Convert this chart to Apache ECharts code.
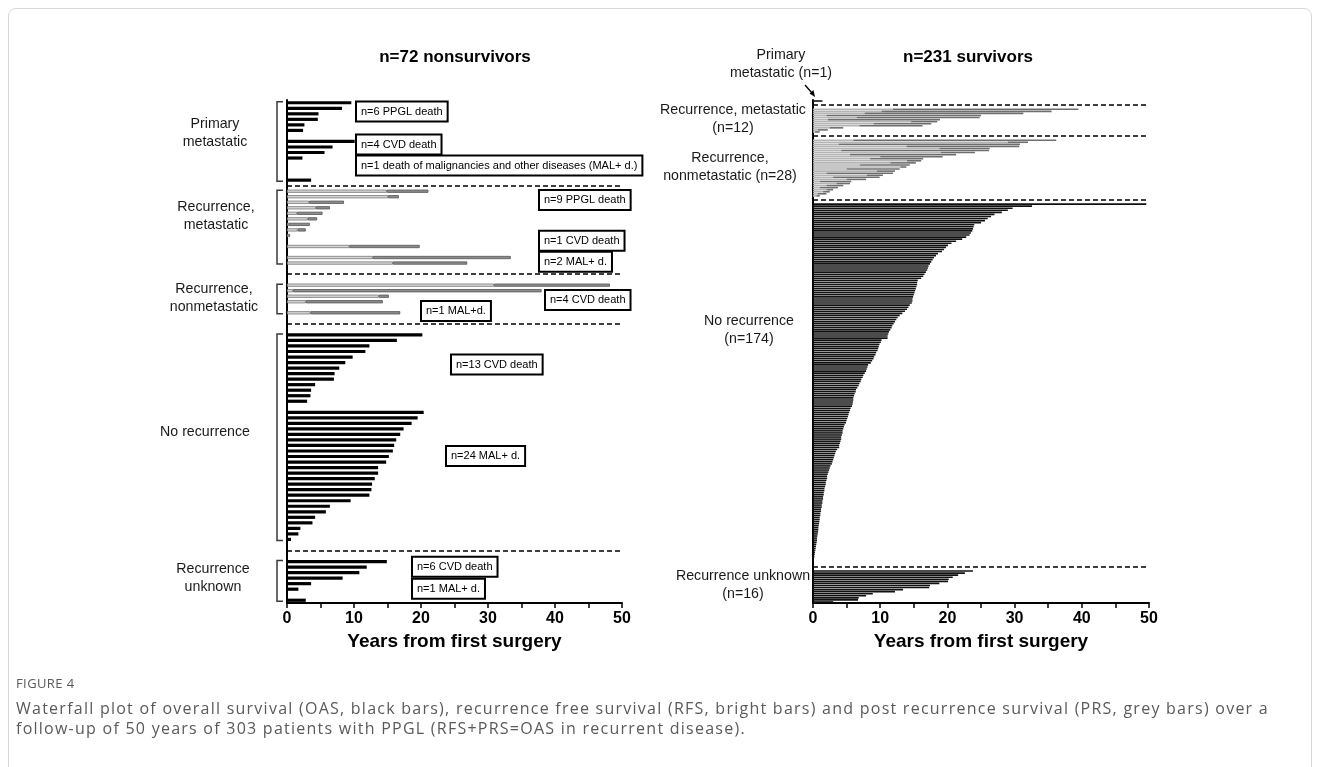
<!DOCTYPE html>
<html>
<head>
<meta charset="utf-8">
<title>Waterfall plot PPGL</title>
<script src="https://cdn.jsdelivr.net/npm/echarts@6/dist/echarts.min.js"></script>
<style>
  html, body { margin: 0; padding: 0; background: #fff; }
  #frame { position: absolute; left: 8px; top: 8px; width: 1302px; height: 800px;
           border: 1px solid #d8d8d8; border-radius: 8px; }
  #chart { position: absolute; left: 0; top: 0; width: 1320px; height: 767px; }
  .cap { position: absolute; left: 16px; font-family: 'Open Sans', sans-serif; color: #5a5a5a;
         white-space: nowrap; }
</style>
</head>
<body>
<div id="frame"></div>
<div id="chart"></div>
<div class="cap" style="top:674px;font-size:13px;line-height:18px;letter-spacing:0.4px;">FIGURE 4</div>
<div class="cap" style="top:698px;font-size:16px;line-height:20px;letter-spacing:1.25px;">Waterfall plot of overall survival (OAS, black bars), recurrence free survival (RFS, bright bars) and post recurrence survival (PRS, grey bars) over a<br>follow-up of 50 years of 303 patients with PPGL (RFS+PRS=OAS in recurrent disease).</div>
<script>
// ---------- left panel: n=72 nonsurvivors (years) ----------
// primary metastatic, overall survival
const primMetPPGL = [9.6, 8.2, 4.7, 4.6, 2.6, 2.4];
const primMetCVD = [10.1, 6.8, 5.6, 2.3];
const primMetMAL = [3.6];
// recurrence, metastatic: RFS (bright) and OAS (end of bar)
const recMetPPGLrfs = [14.9, 15.1, 3.3, 4.3, 1.5, 3.1, 0.2, 1.6, 0.2];
const recMetPPGLoas = [21.1, 16.7, 8.5, 6.4, 5.3, 4.5, 3.4, 2.8, 0.45];
const recMetCVDrfs = [9.3];
const recMetCVDoas = [19.8];
const recMetMALrfs = [12.8, 15.8];
const recMetMALoas = [33.4, 26.9];
// recurrence, nonmetastatic
const recNonCVDrfs = [30.9, 0.9, 13.7, 2.8];
const recNonCVDoas = [48.2, 38.0, 15.2, 14.3];
const recNonMALrfs = [3.5];
const recNonMALoas = [16.9];
// no recurrence
const noRecCVD = [20.2, 16.4, 12.3, 11.7, 9.8, 8.7, 7.8, 7.1, 7.0, 4.2, 3.6, 3.5, 3.0];
const noRecMAL = [20.4, 19.5, 18.6, 17.4, 16.9, 16.3, 16.0, 15.8, 15.2, 14.8, 13.6, 13.6,
                  13.1, 12.7, 12.6, 12.3, 9.5, 6.4, 5.8, 4.2, 3.8, 2.0, 1.7, 0.6];
// recurrence unknown
const unkCVD = [14.9, 11.9, 10.8, 8.3, 3.6, 1.7];
const unkMAL = [2.8];

// ---------- right panel: n=231 survivors (years) ----------
const survPrimMet = [1.4];
const survRecMetRfs = [11.9, 10.2, 7.7, 2.0, 6.5, 2.2, 14.6, 9.0, 6.9, 2.5, 0.7, 0.3];
const survRecMetOas = [39.5, 35.5, 31.3, 25.0, 24.8, 18.9, 18.5, 17.6, 16.3, 4.5, 2.2, 1.0];
const survRecNonRfs = [6.0, 29.0, 3.8, 13.9, 18.8, 4.2, 19.0, 5.5, 10.0, 8.5, 14.0, 11.5, 7.0, 13.0,
                       5.0, 9.5, 2.0, 8.0, 3.0, 5.0, 1.0, 3.5, 2.0, 1.0, 2.0, 1.5, 0.7, 0.5];
const survRecNonOas = [36.2, 32.0, 30.8, 30.7, 26.3, 26.2, 24.1, 21.3, 19.3, 16.4, 16.1, 15.3, 14.4, 13.9,
                       12.9, 12.2, 11.9, 10.4, 9.9, 7.9, 5.7, 5.5, 4.5, 3.7, 3.0, 2.5, 2.0, 1.0];
const survNoRec = [
  49.6, 32.6, 29.7, 29.0, 28.1, 27.0, 26.5, 26.0, 25.6, 25.0, 24.0, 23.9, 23.8, 23.7, 23.5, 23.3,
  22.8, 22.2, 21.3, 20.6, 20.1, 19.8, 19.5, 19.2, 18.6, 18.3, 18.0, 17.8, 17.6, 17.4, 17.2, 17.1,
  17.0, 16.8, 16.6, 16.4, 16.1, 15.6, 15.5, 15.5, 15.4, 15.3, 15.2, 15.1, 15.0, 14.9, 14.8, 14.8,
  14.7, 14.4, 14.2, 14.0, 13.7, 13.3, 12.9, 12.6, 12.4, 12.2, 12.0, 11.8, 11.7, 11.5, 11.3, 11.2,
  11.1, 11.1, 10.2, 10.1, 9.9, 9.8, 9.7, 9.6, 9.4, 9.3, 9.1, 9.0, 8.8, 8.6, 8.2, 8.1,
  8.0, 7.9, 7.7, 7.5, 7.4, 7.2, 7.1, 6.9, 6.8, 6.6, 6.4, 6.35, 6.2, 6.1, 6.0, 6.0,
  5.95, 5.9, 5.8, 5.6, 5.5, 5.4, 5.3, 5.2, 5.1, 5.0, 4.9, 4.7, 4.6, 4.5, 4.4, 4.4,
  4.3, 4.2, 4.2, 4.1, 4.0, 3.9, 3.9, 3.6, 3.4, 3.3, 3.2, 3.1, 3.0, 2.9, 2.8, 2.6,
  2.5, 2.4, 2.3, 2.2, 2.1, 2.1, 2.0, 1.9, 1.9, 1.8, 1.7, 1.7, 1.6, 1.6, 1.5, 1.5,
  1.4, 1.4, 1.3, 1.3, 1.2, 1.2, 1.1, 1.1, 1.0, 1.0, 0.95, 0.9, 0.85, 0.8, 0.8, 0.75,
  0.7, 0.65, 0.6, 0.6, 0.55, 0.5, 0.45, 0.4, 0.35, 0.3, 0.25, 0.2, 0.15, 0.1
];
const survUnk = [23.8, 22.6, 21.6, 20.8, 20.2, 20.1, 18.8, 17.4, 17.3, 13.4, 12.2, 8.9, 7.9, 6.8, 6.7, 3.0];

// row order of each panel: bar groups, blank rows and dashed separators
const leftLayout = [
  { oas: primMetPPGL }, { gap: 1 }, { oas: primMetCVD }, { gap: 3 }, { oas: primMetMAL }, { dash: true },
  { rfs: recMetPPGLrfs, oas: recMetPPGLoas }, { gap: 1 }, { rfs: recMetCVDrfs, oas: recMetCVDoas }, { gap: 1 },
  { rfs: recMetMALrfs, oas: recMetMALoas }, { gap: 1 }, { dash: true }, { gap: 1 },
  { rfs: recNonCVDrfs, oas: recNonCVDoas }, { gap: 1 }, { rfs: recNonMALrfs, oas: recNonMALoas }, { gap: 1 },
  { dash: true }, { gap: 1 },
  { oas: noRecCVD }, { gap: 1 }, { oas: noRecMAL }, { gap: 1 }, { dash: true }, { gap: 1 },
  { oas: unkCVD }, { gap: 1 }, { oas: unkMAL }
];
const rightLayout = [
  { oas: survPrimMet }, { gap: 1 }, { dash: true }, { gap: 1 },
  { rfs: survRecMetRfs, oas: survRecMetOas }, { gap: 1 }, { dash: true }, { gap: 1 },
  { rfs: survRecNonRfs, oas: survRecNonOas }, { gap: 1 }, { dash: true }, { gap: 1 },
  { oas: survNoRec }, { gap: 2 }, { dash: true }, { gap: 1 },
  { oas: survUnk }
];

const FONT = "'Liberation Sans', Arial, Helvetica, sans-serif";

function buildRows(layout) {
  const rows = [], dashes = [];
  layout.forEach(seg => {
    if (seg.gap) {
      for (let i = 0; i < seg.gap; i++) rows.push(null);
    } else if (seg.dash) {
      dashes.push(rows.length);
      rows.push(null);
    } else {
      seg.oas.forEach((v, i) => rows.push({ oas: v, rfs: seg.rfs ? seg.rfs[i] : null }));
    }
  });
  return { rows, dashes };
}

const left = buildRows(leftLayout);
const right = buildRows(rightLayout);

function xAxisCfg(g) {
  return {
    type: 'value', gridIndex: g, min: 0, max: 50, interval: 10,
    name: 'Years from first surgery', nameLocation: 'middle', nameGap: 29,
    nameTextStyle: { fontFamily: FONT, fontWeight: 'bold', fontSize: 19, color: '#000' },
    axisLine: { show: true, lineStyle: { color: '#000', width: 2 } },
    axisTick: { show: true, length: 5, lineStyle: { color: '#000', width: 1.5 } },
    minorTick: { show: true, splitNumber: 2, length: 5, lineStyle: { color: '#000', width: 1.5 } },
    axisLabel: { fontFamily: FONT, fontWeight: 'bold', fontSize: 16, color: '#000', margin: 8 },
    splitLine: { show: false }, minorSplitLine: { show: false }
  };
}

function yAxisCfg(g, rows) {
  return {
    type: 'category', gridIndex: g, inverse: true, data: rows.map((_, i) => String(i)),
    axisLine: { show: true, onZero: false, lineStyle: { color: '#000', width: 2 } },
    axisTick: { show: false }, axisLabel: { show: false }, splitLine: { show: false }
  };
}

function panelSeries(g, panel, opt) {
  const common = { type: 'bar', xAxisIndex: g, yAxisIndex: g, barWidth: opt.barWidth, barGap: '-100%',
                   silent: true, emphasis: { disabled: true } };
  return [
    Object.assign({}, common, {
      name: 'OAS' + g,
      data: panel.rows.map(r => (r && r.rfs == null ? r.oas : '-')),
      itemStyle: { color: opt.black },
      markLine: {
        silent: true, symbol: ['none', 'none'], label: { show: false },
        lineStyle: { type: [5, 3], color: '#000', width: 1.5 },
        data: panel.dashes.map(k => [{ coord: [0, k] }, { coord: [50, k] }])
      }
    }),
    Object.assign({}, common, {
      name: 'RFS' + g, stack: 'rec' + g,
      data: panel.rows.map(r => (r && r.rfs != null ? r.rfs : '-')),
      itemStyle: { color: opt.bright, borderColor: opt.brightBorder, borderWidth: opt.border }
    }),
    Object.assign({}, common, {
      name: 'PRS' + g, stack: 'rec' + g,
      data: panel.rows.map(r => (r && r.rfs != null ? +(r.oas - r.rfs).toFixed(2) : '-')),
      itemStyle: { color: opt.grey, borderColor: opt.greyBorder, borderWidth: opt.border }
    })
  ];
}

const chart = echarts.init(document.getElementById('chart'));

chart.setOption({
  animation: false,
  backgroundColor: 'transparent',
  grid: [
    { left: 287, top: 100, width: 335, height: 503, outerBoundsMode: 'none' },
    { left: 813, top: 100, width: 336, height: 503, outerBoundsMode: 'none' }
  ],
  xAxis: [xAxisCfg(0), xAxisCfg(1)],
  yAxis: [yAxisCfg(0, left.rows), yAxisCfg(1, right.rows)],
  series: [
    ...panelSeries(0, left, { barWidth: 3.2, black: '#000', bright: '#d4d4d4', brightBorder: '#7a7a7a',
                              grey: '#8c8c8c', greyBorder: '#555', border: 0.8 }),
    ...panelSeries(1, right, { barWidth: 1.6, black: '#111', bright: '#b4b4b4', brightBorder: '#b4b4b4',
                               grey: '#6e6e6e', greyBorder: '#6e6e6e', border: 0 })
  ]
});

// ---- text, boxes and brackets placed around the axes ----
const rowY = (g, k) => chart.convertToPixel({ gridIndex: g }, [0, k])[1];

function label(x, y, text) {
  return { type: 'text', x, y, z: 100, silent: true,
           style: { text, fontFamily: FONT, fontSize: 14.2, fill: '#1a1a1a', align: 'center',
                    verticalAlign: 'middle', lineHeight: 18 } };
}
function box(x, y, text) {
  return { type: 'text', x, y, z: 100, silent: true,
           style: { text, fontFamily: FONT, fontSize: 11, fill: '#000', align: 'left', verticalAlign: 'middle',
                    backgroundColor: '#fff', borderColor: '#000', borderWidth: 2, padding: [4, 4, 3, 4] } };
}

const graphic = [
  { type: 'text', x: 455, y: 57, silent: true,
    style: { text: 'n=72 nonsurvivors', fontFamily: FONT, fontWeight: 'bold', fontSize: 17, fill: '#000',
             align: 'center', verticalAlign: 'middle' } },
  { type: 'text', x: 968, y: 57, silent: true,
    style: { text: 'n=231 survivors', fontFamily: FONT, fontWeight: 'bold', fontSize: 17, fill: '#000',
             align: 'center', verticalAlign: 'middle' } },

  label(215, 133.5, 'Primary\nmetastatic'),
  label(216, 216, 'Recurrence,\nmetastatic'),
  label(214, 298.5, 'Recurrence,\nnonmetastatic'),
  label(205, 432, 'No recurrence'),
  label(213, 578, 'Recurrence\nunknown'),

  label(781, 64, 'Primary\nmetastatic (n=1)'),
  label(733, 119.5, 'Recurrence, metastatic\n(n=12)'),
  label(730, 167, 'Recurrence,\nnonmetastatic (n=28)'),
  label(749, 330, 'No recurrence\n(n=174)'),
  label(743, 585.5, 'Recurrence unknown\n(n=16)'),

  box(357, 111.5, 'n=6 PPGL death'),
  box(357, 144.5, 'n=4 CVD death'),
  box(357, 165.5, 'n=1 death of malignancies and other diseases (MAL+ d.)'),
  box(540, 200, 'n=9 PPGL death'),
  box(540, 240.7, 'n=1 CVD death'),
  box(540, 261.7, 'n=2 MAL+ d.'),
  box(546, 300, 'n=4 CVD death'),
  box(422, 311, 'n=1 MAL+d.'),
  box(452, 364.5, 'n=13 CVD death'),
  box(447, 456, 'n=24 MAL+ d.'),
  box(413, 566.7, 'n=6 CVD death'),
  box(413, 588.7, 'n=1 MAL+ d.'),

  // arrow to the single primary metastatic survivor
  { type: 'line', silent: true, shape: { x1: 805, y1: 85, x2: 812, y2: 93 },
    style: { stroke: '#000', lineWidth: 1.3 } },
  { type: 'polygon', silent: true, shape: { points: [[815, 97], [809.5, 93.5], [813.5, 90]] },
    style: { fill: '#000' } }
];

// brackets on the left panel: one per section between dashed lines
const cuts = [-1, ...left.dashes, left.rows.length];
for (let s = 0; s < cuts.length - 1; s++) {
  let first = -1, last = -1;
  for (let k = cuts[s] + 1; k < cuts[s + 1]; k++) {
    if (left.rows[k]) { if (first < 0) first = k; last = k; }
  }
  if (first < 0) continue;
  const y1 = rowY(0, first) - 1, y2 = rowY(0, last) + 1;
  graphic.push({ type: 'polyline', silent: true,
                 shape: { points: [[283, y1], [277, y1], [277, y2], [283, y2]] },
                 style: { stroke: '#3a3a3a', lineWidth: 1.5, fill: null } });
}

chart.setOption({ graphic });
</script>
</body>
</html>
